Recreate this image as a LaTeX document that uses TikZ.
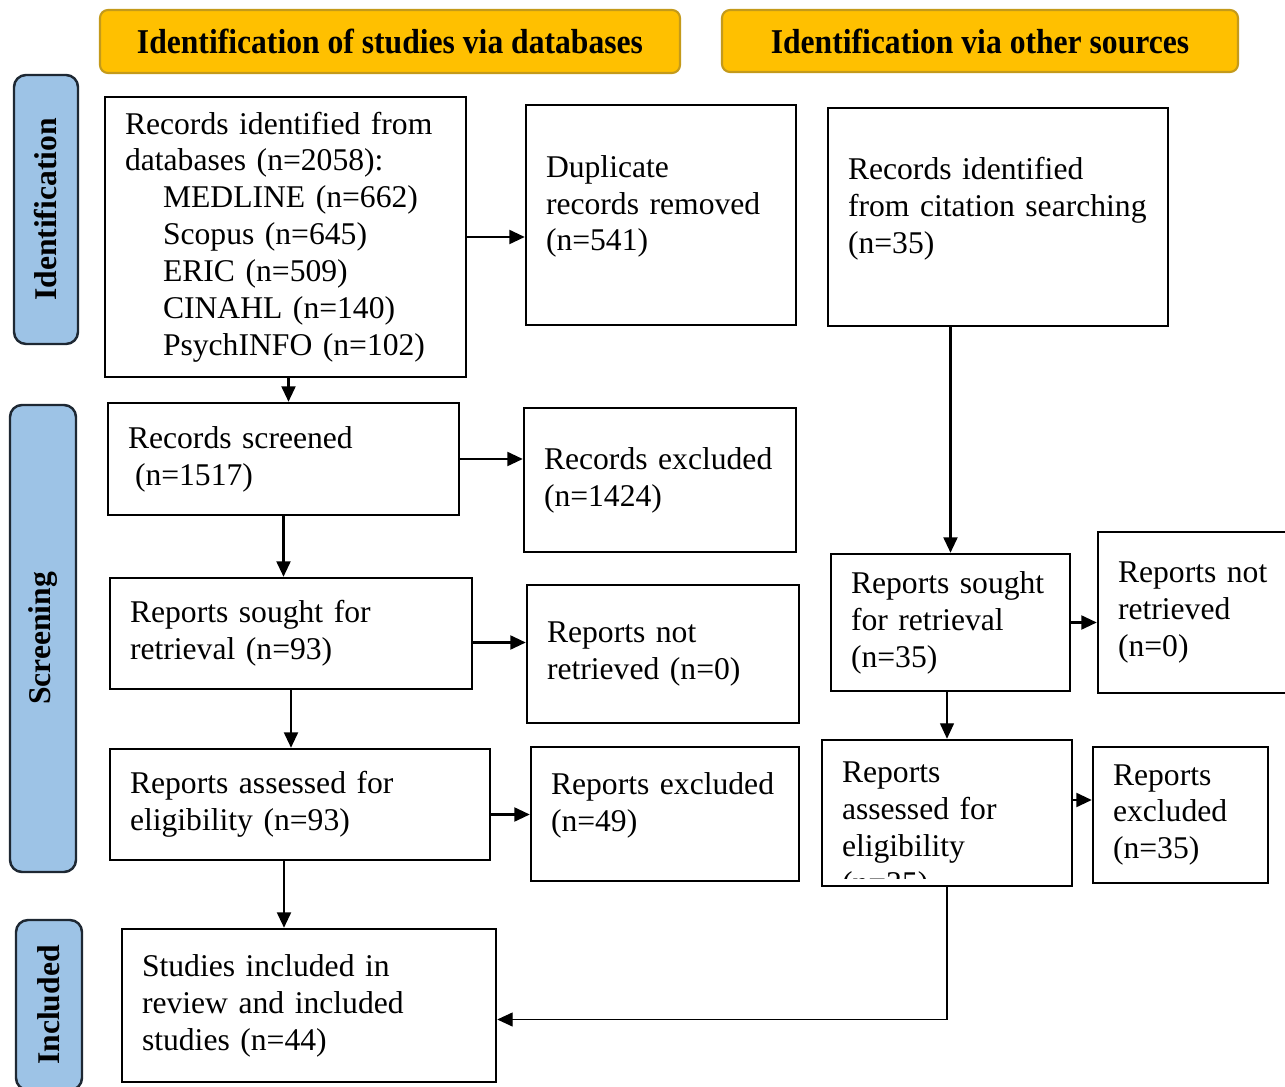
\documentclass[tikz,border=0pt]{standalone}
\usepackage{fontspec}
\setmainfont{Liberation Serif}
\usetikzlibrary{arrows.meta}

\newlength\unitpx
\setlength\unitpx{0.02cm}
\newcommand\bodyfont{\fontsize{18}{21}\selectfont}

\definecolor{headfill}{HTML}{FFC000}
\definecolor{headline}{HTML}{C49A1A}
\definecolor{phasefill}{HTML}{9DC3E6}
\definecolor{phaseline}{HTML}{1E2833}

\tikzset{
  box/.style 2 args={draw, line width=1.4pt, align=left, font=\bodyfont,
    inner xsep=20\unitpx, inner ysep=0pt,
    text width={(#1-40)*\unitpx}, minimum width={#1*\unitpx}, minimum height={#2*\unitpx}},
  txt/.style={align=left, font=\bodyfont, inner sep=0pt, text width={#1*\unitpx}},
  head/.style 2 args={draw=headline, fill=headfill, line width=1.2pt, rounded corners=0.16cm,
    font=\bfseries\bodyfont, minimum width={#1*\unitpx}, minimum height={#2*\unitpx}},
  phase/.style 2 args={draw=phaseline, fill=phasefill, line width=1.4pt, rounded corners=0.24cm,
    rotate=90, inner sep=0pt, font=\bfseries\bodyfont,
    minimum width={#1*\unitpx}, minimum height={#2*\unitpx}},
  arr/.style={-{Triangle[length=0.31cm,width=0.28cm]}, line width=1.3pt},
  thinarr/.style={-{Triangle[length=0.31cm,width=0.28cm]}, line width=0.8pt},
}

\begin{document}
\begin{tikzpicture}[x=0.02cm,y=-0.02cm]
  \useasboundingbox (0,0) rectangle (1285,1087);
  \fill[white] (0,0) rectangle (1285,1087);

  %Encabezados
  \node[head={580}{63}] (hdb) at (390,41.5) {\scalebox{1}[1.1]{Identification of studies via databases}};
  \node[head={516}{62}] (hoth) at (980,41) {\scalebox{1}[1.1]{Identification via other sources}};

  %Fases
  \node[phase={269}{64}] (pident) at (46,209.5) {Identification};
  \node[phase={467}{66}] (pscreen) at (43,638.5) {Screening};
  \node[phase={170}{66}] (pincl) at (49,1005) {Included};

  %Columna bases de datos
  \node[box={361}{280}] (db) at (285.5,237) {Records identified from\\databases (n=2058):\\
    \hspace*{38\unitpx}MEDLINE (n=662)\\\hspace*{38\unitpx}Scopus (n=645)\\
    \hspace*{38\unitpx}ERIC (n=509)\\\hspace*{38\unitpx}CINAHL (n=140)\\
    \hspace*{38\unitpx}PsychINFO (n=102)};
  \node[box={270}{220}] (dup) at (661,215) {Duplicate\\records removed\\(n=541)\\[-13\unitpx]\mbox{}};
  \node[box={351}{112}] (scr) at (283.5,459) {Records screened\\\hspace*{7\unitpx}(n=1517)};
  \node[box={272}{144}] (recx) at (660,480) {Records excluded\\(n=1424)};
  \node[box={362}{111}] (sgt) at (291,633.5) {Reports sought for\\retrieval (n=93)};
  \node[box={272}{138}] (nrt) at (663,654) {Reports not\\retrieved (n=0)};
  \node[box={380}{111}] (ass) at (300,804.5) {Reports assessed for\\eligibility (n=93)};
  \node[box={268}{134}] (repx) at (665,814) {Reports excluded\\(n=49)\\[-13\unitpx]\mbox{}};
  \node[box={374}{153}] (inc) at (309,1005.5) {Studies included in\\review and included\\studies (n=44)};

  %Columna otras fuentes
  \node[box={340}{218}] (cit) at (998,217) {Records identified\\\mbox{from citation searching}\\(n=35)\\[-13\unitpx]\mbox{}};
  \node[box={239}{137}] (sgt2) at (950.5,622.5) {Reports sought\\for retrieval\\(n=35)};
  \node[box={202}{161}] (nrt2) at (1199,612.5) {Reports not\\retrieved\\(n=0)};
  \node[box={250}{146}] (ass2) at (947,813) {};
  \begin{scope}
    \clip ([shift={(2,-9)}]ass2.south west) rectangle ([shift={(-2,2)}]ass2.north east);
    \node[txt=210] (ass2txt) at (947,831) {Reports\\assessed for\\eligibility\\(n=35)};
  \end{scope}
  \node[box={175}{136}] (repx2) at (1180.5,815) {Reports\\excluded\\(n=35)};

  %Flechas
  \draw[arr] ([xshift=3\unitpx]db.south) -- ([xshift=3\unitpx]db.south |- scr.north);
  \draw[arr] (db.east) -- (db.east -| dup.west);
  \draw[arr] (scr.east) -- (scr.east -| recx.west);
  \draw[arr] (scr.south) -- (scr.south |- sgt.north);
  \draw[arr] ([yshift=-9\unitpx]sgt.east) -- ([yshift=-9\unitpx]sgt.east -| nrt.west);
  \draw[arr] (sgt.south) -- (sgt.south |- ass.north);
  \draw[arr] ([yshift=-10\unitpx]ass.east) -- ([yshift=-10\unitpx]ass.east -| repx.west);
  \draw[arr] ([xshift=-16\unitpx]ass.south) -- ([xshift=-16\unitpx]ass.south |- inc.north);

  \draw[arr] (sgt2.north |- cit.south) -- (sgt2.north);
  \draw[arr] (sgt2.east) -- (sgt2.east -| nrt2.west);
  \draw[thinarr] (ass2.north |- sgt2.south) -- (ass2.north);
  \draw[arr] ([yshift=13\unitpx]ass2.east) -- ([yshift=13\unitpx]ass2.east -| repx2.west);
  \draw[thinarr] (ass2.south) |- ([yshift=-14\unitpx]inc.east);
\end{tikzpicture}
\end{document}
